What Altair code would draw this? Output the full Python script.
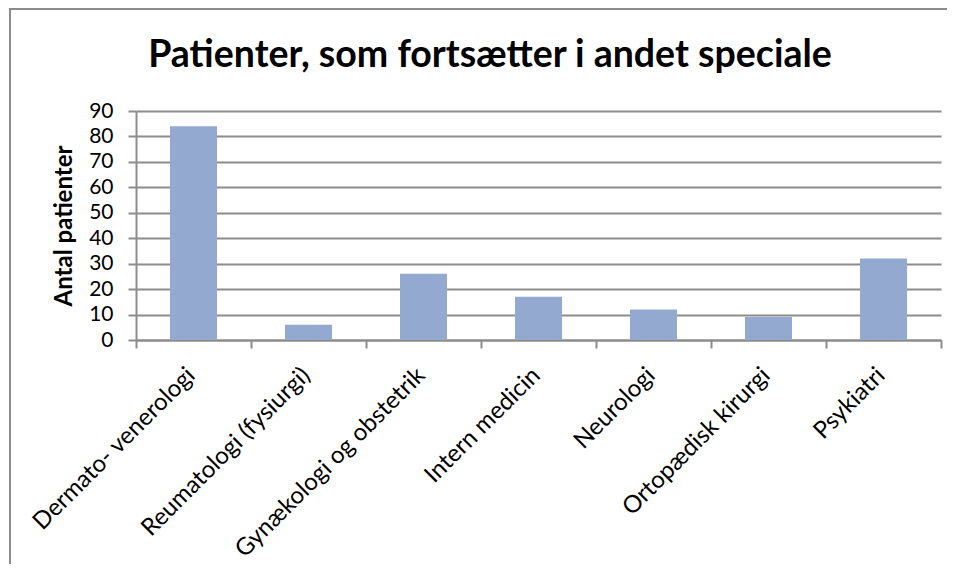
import altair as alt
import pandas as pd

categories = [
    "Dermato- venerologi",
    "Reumatologi (fysiurgi)",
    "Gynækologi og obstetrik",
    "Intern medicin",
    "Neurologi",
    "Ortopædisk kirurgi",
    "Psykiatri",
]
values = [84, 6, 26, 17, 12, 9, 32]
y_ticks = [0, 10, 20, 30, 40, 50, 60, 70, 80, 90]
title_text = "Patienter, som fortsætter i andet speciale"
y_title = "Antal patienter"

df = pd.DataFrame({"speciale": categories, "antal": values})

FONT = "Lato"
GRAY = "#8c8c8c"
W, H = 805, 229
PAD = {"left": 128, "top": 103, "right": 6, "bottom": 224}

bars = alt.Chart(df).mark_bar(color="#93a9cf", size=47).encode(
    x=alt.X(
        "speciale:N",
        sort=categories,
        scale=alt.Scale(paddingInner=0, paddingOuter=0),
        axis=alt.Axis(
            title=None,
            labelAngle=-45,
            labelAlign="right",
            labelBaseline="top",
            labelFont=FONT,
            labelFontSize=24,
            labelColor="#000000",
            labelPadding=15,
            labelOffset=-11,
            tickBand="extent",
            tickSize=8,
            tickColor=GRAY,
            tickWidth=2,
            domainColor=GRAY,
            domainWidth=2,
            grid=False,
            labelLimit=400,
        ),
    ),
    y=alt.Y(
        "antal:Q",
        scale=alt.Scale(domain=[0, 90], nice=False),
        axis=alt.Axis(
            title=y_title,
            values=y_ticks,
            titleFont=FONT,
            titleFontSize=24,
            titleFontWeight="bold",
            titleColor="#000000",
            titlePadding=12,
            labelFont=FONT,
            labelFontSize=21,
            labelColor="#000000",
            labelPadding=15,
            tickSize=8,
            tickColor=GRAY,
            tickWidth=2,
            domainColor=GRAY,
            domainWidth=2,
            gridColor=GRAY,
            gridWidth=2,
        ),
    ),
)

title = alt.Chart(alt.Data(values=[{"t": title_text}])).mark_text(
    font=FONT, fontSize=37.5, fontWeight="bold", color="#000000",
    align="center", baseline="alphabetic",
).encode(text="t:N", x=alt.value(354), y=alt.value(-44))

frame_left = alt.Chart(alt.Data(values=[{"a": 1}])).mark_rule(
    color=GRAY, strokeWidth=2
).encode(x=alt.value(-126), y=alt.value(-102), y2=alt.value(H + PAD["bottom"]))

frame_top = alt.Chart(alt.Data(values=[{"a": 1}])).mark_rule(
    color=GRAY, strokeWidth=2
).encode(x=alt.value(-127), x2=alt.value(W + PAD["right"]), y=alt.value(-102))

chart = alt.layer(bars, title, frame_left, frame_top).properties(
    width=W,
    height=H,
    padding=PAD,
    autosize=alt.AutoSizeParams(type="none"),
).configure_view(stroke=None)

chart.save("out.html", embed_options={"renderer": "svg", "actions": False})
